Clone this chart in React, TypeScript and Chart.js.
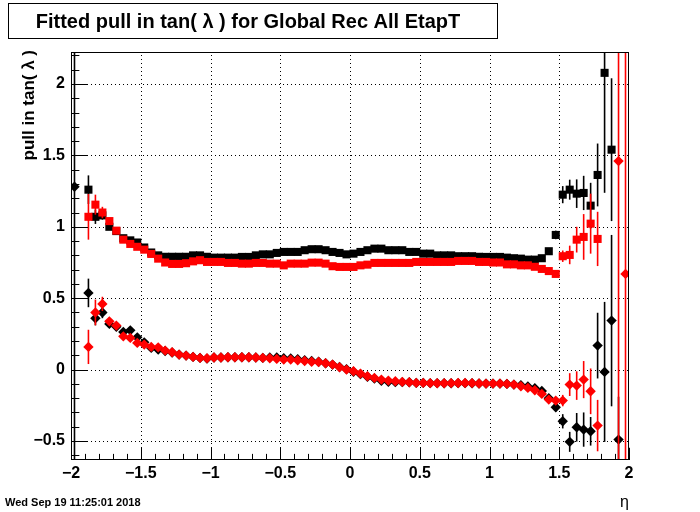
import { useEffect, useRef } from "react";
import { Chart, registerables } from "chart.js";

Chart.register(...registerables);

// ---------- data ----------
const etaCenters = [
  -1.975, -1.925, -1.875, -1.825, -1.775, -1.725, -1.675, -1.625, -1.575, -1.525,
  -1.475, -1.425, -1.375, -1.325, -1.275, -1.225, -1.175, -1.125, -1.075, -1.025,
  -0.975, -0.925, -0.875, -0.825, -0.775, -0.725, -0.675, -0.625, -0.575, -0.525,
  -0.475, -0.425, -0.375, -0.325, -0.275, -0.225, -0.175, -0.125, -0.075, -0.025,
  0.025, 0.075, 0.125, 0.175, 0.225, 0.275, 0.325, 0.375, 0.425, 0.475,
  0.525, 0.575, 0.625, 0.675, 0.725, 0.775, 0.825, 0.875, 0.925, 0.975,
  1.025, 1.075, 1.125, 1.175, 1.225, 1.275, 1.325, 1.375, 1.425, 1.475,
  1.525, 1.575, 1.625, 1.675, 1.725, 1.775, 1.825, 1.875, 1.925, 1.975,
];

// black squares (sigma, set 1)
const blackSquares = [
  null, null, 1.26, 1.07, 1.08, 1.0, 0.97, 0.92, 0.905, 0.89,
  0.855, 0.82, 0.8, 0.79, 0.79, 0.79, 0.79, 0.8, 0.8, 0.79,
  0.784, 0.784, 0.784, 0.784, 0.789, 0.789, 0.8, 0.807, 0.807, 0.817,
  0.824, 0.824, 0.824, 0.836, 0.843, 0.843, 0.836, 0.824, 0.817, 0.807,
  0.812, 0.824, 0.836, 0.847, 0.847, 0.836, 0.836, 0.836, 0.824, 0.824,
  0.812, 0.812, 0.8, 0.8, 0.8, 0.794, 0.794, 0.794, 0.79, 0.789,
  0.789, 0.789, 0.784, 0.78, 0.777, 0.77, 0.77, 0.78, 0.829, 0.943,
  1.225, 1.26, 1.232, 1.237, 1.148, 1.363, 2.078, 1.54, null, null,
];
const blackSquaresErr = [
  0, 0, 0.1, 0.05, 0.03, 0.02, 0.015, 0.015, 0.015, 0.015,
  0.015, 0.015, 0.012, 0.01, 0.01, 0.01, 0.01, 0.01, 0.01, 0.01,
  0.01, 0.01, 0.01, 0.01, 0.01, 0.01, 0.01, 0.01, 0.01, 0.01,
  0.01, 0.01, 0.01, 0.01, 0.01, 0.01, 0.01, 0.01, 0.01, 0.01,
  0.01, 0.01, 0.01, 0.01, 0.01, 0.01, 0.01, 0.01, 0.01, 0.01,
  0.01, 0.01, 0.01, 0.01, 0.01, 0.01, 0.01, 0.01, 0.01, 0.01,
  0.01, 0.01, 0.01, 0.01, 0.01, 0.01, 0.01, 0.015, 0.02, 0.03,
  0.06, 0.07, 0.1, 0.12, 0.16, 0.22, 0.84, 0.5, 0, 0,
];

// red squares (sigma, set 2)
const redSquares = [
  null, null, 1.07, 1.155, 1.1, 1.04, 0.973, 0.91, 0.88, 0.86,
  0.84, 0.81, 0.777, 0.75, 0.74, 0.74, 0.745, 0.758, 0.766, 0.754,
  0.754, 0.754, 0.747, 0.747, 0.742, 0.742, 0.747, 0.747, 0.742, 0.742,
  0.73, 0.742, 0.742, 0.742, 0.749, 0.749, 0.742, 0.724, 0.719, 0.719,
  0.719, 0.73, 0.735, 0.747, 0.747, 0.747, 0.747, 0.747, 0.747, 0.754,
  0.754, 0.754, 0.754, 0.754, 0.754, 0.761, 0.761, 0.761, 0.754, 0.754,
  0.75, 0.75, 0.737, 0.737, 0.73, 0.73, 0.72, 0.705, 0.69, 0.67,
  0.794, 0.803, 0.91, 0.929, 1.022, 0.915, null, null, null, null,
];
const redSquaresErr = [
  0, 0, 0.16, 0.07, 0.04, 0.02, 0.015, 0.015, 0.015, 0.015,
  0.015, 0.015, 0.01, 0.01, 0.01, 0.01, 0.01, 0.01, 0.01, 0.01,
  0.01, 0.01, 0.01, 0.01, 0.01, 0.01, 0.01, 0.01, 0.01, 0.01,
  0.01, 0.01, 0.01, 0.01, 0.01, 0.01, 0.01, 0.01, 0.01, 0.01,
  0.01, 0.01, 0.01, 0.01, 0.01, 0.01, 0.01, 0.01, 0.01, 0.01,
  0.01, 0.01, 0.01, 0.01, 0.01, 0.01, 0.01, 0.01, 0.01, 0.01,
  0.01, 0.01, 0.01, 0.01, 0.01, 0.01, 0.01, 0.015, 0.02, 0.02,
  0.04, 0.065, 0.09, 0.16, 0.21, 0.19, 0, 0, 0, 0,
];

// black diamonds (mean, set 1)
const blackDiamonds = [
  1.28, null, 0.537, 0.36, 0.4, 0.32, 0.3, 0.264, 0.275, 0.226,
  0.191, 0.152, 0.14, 0.13, 0.12, 0.105, 0.098, 0.089, 0.082, 0.077,
  0.085, 0.085, 0.087, 0.087, 0.087, 0.087, 0.085, 0.082, 0.085, 0.085,
  0.08, 0.078, 0.072, 0.065, 0.06, 0.055, 0.045, 0.035, 0.018, 0.003,
  -0.015, -0.032, -0.05, -0.062, -0.078, -0.085, -0.088, -0.088, -0.089, -0.093,
  -0.093, -0.095, -0.095, -0.096, -0.096, -0.095, -0.095, -0.096, -0.097, -0.098,
  -0.098, -0.098, -0.1, -0.105, -0.11, -0.118, -0.13, -0.15, -0.2, -0.264,
  -0.362, -0.506, -0.404, -0.42, -0.432, 0.168, -0.016, 0.343, -0.49, null,
];
const blackDiamondsErr = [
  3, 0, 0.1, 0.05, 0.04, 0.02, 0.015, 0.015, 0.015, 0.015,
  0.015, 0.015, 0.01, 0.01, 0.01, 0.01, 0.01, 0.01, 0.01, 0.01,
  0.01, 0.01, 0.01, 0.01, 0.01, 0.01, 0.01, 0.01, 0.01, 0.01,
  0.01, 0.01, 0.01, 0.01, 0.01, 0.01, 0.01, 0.01, 0.01, 0.01,
  0.01, 0.01, 0.01, 0.01, 0.01, 0.01, 0.01, 0.01, 0.01, 0.01,
  0.01, 0.01, 0.01, 0.01, 0.01, 0.01, 0.01, 0.01, 0.01, 0.01,
  0.01, 0.01, 0.01, 0.01, 0.01, 0.01, 0.01, 0.015, 0.02, 0.03,
  0.05, 0.07, 0.1, 0.12, 0.1, 0.23, 0.49, 0.6, 0.3, 0,
];

// red diamonds (mean, set 2)
const redDiamonds = [
  null, null, 0.159, 0.4, 0.46, 0.338, 0.308, 0.233, 0.222, 0.187,
  0.175, 0.159, 0.156, 0.133, 0.121, 0.105, 0.098, 0.089, 0.082, 0.08,
  0.085, 0.085, 0.087, 0.087, 0.087, 0.087, 0.085, 0.082, 0.08, 0.075,
  0.07, 0.07, 0.066, 0.06, 0.055, 0.053, 0.045, 0.035, 0.016, 0.0,
  -0.012, -0.028, -0.047, -0.058, -0.07, -0.077, -0.082, -0.086, -0.089, -0.093,
  -0.093, -0.095, -0.096, -0.096, -0.095, -0.094, -0.094, -0.095, -0.097, -0.098,
  -0.098, -0.098, -0.1, -0.105, -0.117, -0.128, -0.145, -0.17, -0.21, -0.217,
  -0.217, -0.105, -0.112, -0.07, -0.152, -0.392, null, null, 1.46, 0.67,
];
const redDiamondsErr = [
  0, 0, 0.12, 0.09, 0.05, 0.02, 0.015, 0.015, 0.015, 0.015,
  0.015, 0.015, 0.01, 0.01, 0.01, 0.01, 0.01, 0.01, 0.01, 0.01,
  0.01, 0.01, 0.01, 0.01, 0.01, 0.01, 0.01, 0.01, 0.01, 0.01,
  0.01, 0.01, 0.01, 0.01, 0.01, 0.01, 0.01, 0.01, 0.01, 0.01,
  0.01, 0.01, 0.01, 0.01, 0.01, 0.01, 0.01, 0.01, 0.01, 0.01,
  0.01, 0.01, 0.01, 0.01, 0.01, 0.01, 0.01, 0.01, 0.01, 0.01,
  0.01, 0.01, 0.01, 0.01, 0.01, 0.01, 0.01, 0.015, 0.02, 0.02,
  0.04, 0.08, 0.1, 0.13, 0.16, 0.18, 0, 0, 3, 3,
];

const xTickValues = [-2, -1.5, -1, -0.5, 0, 0.5, 1, 1.5, 2];
const yTickValues = [-0.5, 0, 0.5, 1, 1.5, 2];
const X_MIN = -2;
const X_MAX = 2;
const Y_MIN = -0.633;
const Y_MAX = 2.224;

const titleText = "Fitted pull in tan( \u03bb ) for Global Rec All EtapT";
const yTitleText = "pull in tan( \u03bb )";
const xTitleText = "\u03b7";
const dateText = "Wed Sep 19 11:25:01 2018";

// ---------- styling ----------
const FONT = "'Liberation Sans', Arial, Helvetica, sans-serif";
const BLACK = "#000000";
const RED = "#ff0000";

function fmt(v: number): string {
  const s = String(Math.round(Math.abs(v) * 100) / 100);
  return v < 0 ? "\u2212" + s : s;
}

function toPoints(vals: (number | null)[]) {
  return etaCenters.map((x, i) => ({ x, y: vals[i] }));
}

const errorBarPlugin = {
  id: "rootErrorBars",
  beforeDatasetDraw(chart: any, args: any) {
    const ds = chart.data.datasets[args.index];
    const errs: number[] | undefined = ds.errors;
    if (!errs) return;
    const { ctx, chartArea: a, scales } = chart;
    const xs = scales.x;
    const ys = scales.y;
    ctx.save();
    ctx.beginPath();
    ctx.rect(a.left, a.top, a.right - a.left, a.bottom - a.top);
    ctx.clip();
    ctx.strokeStyle = ds.pointBackgroundColor;
    ctx.lineWidth = 1.6;
    ds.data.forEach((p: any, i: number) => {
      if (p.y === null || p.y === undefined) return;
      const e = errs[i];
      if (!e) return;
      const px = xs.getPixelForValue(p.x);
      const y1 = ys.getPixelForValue(p.y - e);
      const y2 = ys.getPixelForValue(p.y + e);
      ctx.beginPath();
      ctx.moveTo(px, y1);
      ctx.lineTo(px, y2);
      ctx.stroke();
    });
    ctx.restore();
  },
};

const gridPlugin = {
  id: "rootGrid",
  beforeDatasetsDraw(chart: any) {
    const { ctx, chartArea: a, scales } = chart;
    ctx.save();
    ctx.strokeStyle = BLACK;
    ctx.lineWidth = 1;
    ctx.setLineDash([1, 3]);
    xTickValues.forEach((v) => {
      const px = Math.round(scales.x.getPixelForValue(v)) + 0.5;
      if (px <= a.left + 1 || px >= a.right - 1) return;
      ctx.beginPath();
      ctx.moveTo(px, a.bottom);
      ctx.lineTo(px, a.top);
      ctx.stroke();
    });
    yTickValues.forEach((v) => {
      const py = Math.round(scales.y.getPixelForValue(v)) + 0.5;
      ctx.beginPath();
      ctx.moveTo(a.left, py);
      ctx.lineTo(a.right, py);
      ctx.stroke();
    });
    ctx.restore();
  },
};

const framePlugin = {
  id: "rootFrame",
  afterDraw(chart: any) {
    const { ctx, chartArea: a, scales } = chart;
    const xs = scales.x;
    const ys = scales.y;
    ctx.save();
    ctx.strokeStyle = BLACK;
    ctx.lineWidth = 1;
    ctx.setLineDash([]);
    ctx.strokeRect(a.left + 0.5, a.top + 0.5, a.right - a.left - 1, a.bottom - a.top - 1);
    // ticks drawn inside the frame
    const h = a.bottom - a.top;
    const w = a.right - a.left;
    const xMajor = 0.03 * h;
    const yMajor = 0.03 * w;
    ctx.beginPath();
    for (let k = 0; k <= 40; k++) {
      const v = X_MIN + k * 0.1;
      const px = Math.round(xs.getPixelForValue(v)) + 0.5;
      const len = k % 5 === 0 ? xMajor : xMajor / 2;
      ctx.moveTo(px, a.bottom);
      ctx.lineTo(px, a.bottom - len);
    }
    for (let k = -6; k <= 22; k++) {
      const v = k * 0.1;
      if (v < Y_MIN || v > Y_MAX) continue;
      const py = Math.round(ys.getPixelForValue(v)) + 0.5;
      const len = k % 5 === 0 ? yMajor : yMajor / 2;
      ctx.moveTo(a.left, py);
      ctx.lineTo(a.left + len, py);
    }
    ctx.stroke();

    // title box
    ctx.fillStyle = "#ffffff";
    ctx.fillRect(8, 3, 489, 35);
    ctx.strokeRect(8.5, 3.5, 489, 35);
    ctx.fillStyle = BLACK;
    ctx.font = `bold 20px ${FONT}`;
    ctx.textAlign = "center";
    ctx.textBaseline = "alphabetic";
    ctx.fillText(titleText, 248, 28);

    // y title
    ctx.save();
    ctx.translate(34, 50);
    ctx.rotate(-Math.PI / 2);
    ctx.font = `bold 17px ${FONT}`;
    ctx.textAlign = "right";
    ctx.fillText(yTitleText, 0, 0);
    ctx.restore();

    // x title
    ctx.font = `16px ${FONT}`;
    ctx.textAlign = "right";
    ctx.fillText(xTitleText, 629, 507);

    // date
    ctx.font = `bold 11px ${FONT}`;
    ctx.textAlign = "left";
    ctx.fillText(dateText, 5, 506);
    ctx.restore();
  },
};

export default function App() {
  const canvasRef = useRef<HTMLCanvasElement | null>(null);

  useEffect(() => {
    document.body.style.margin = "0";
    const canvas = canvasRef.current;
    if (!canvas) return;
    const mk = (label: string, vals: (number | null)[], errs: number[], color: string, style: string, radius: number) => ({
      label,
      data: toPoints(vals),
      errors: errs,
      showLine: false,
      pointStyle: style,
      pointRadius: radius,
      pointHoverRadius: radius,
      pointBackgroundColor: color,
      pointBorderColor: color,
      pointBorderWidth: 0,
      backgroundColor: color,
      borderColor: color,
    });
    const chart = new Chart(canvas, {
      type: "scatter",
      data: {
        datasets: [
          mk("red mean", redDiamonds, redDiamondsErr, RED, "rectRot", 5.2),
          mk("red sigma", redSquares, redSquaresErr, RED, "rect", 5.7),
          mk("black mean", blackDiamonds, blackDiamondsErr, BLACK, "rectRot", 5.2),
          mk("black sigma", blackSquares, blackSquaresErr, BLACK, "rect", 5.7),
        ] as any,
      },
      options: {
        animation: false,
        responsive: false,
        devicePixelRatio: 1,
        events: [],
        layout: { padding: { left: 0, top: 52, right: 71, bottom: 0 } },
        plugins: {
          legend: { display: false },
          tooltip: { enabled: false },
          title: { display: false },
        },
        scales: {
          x: {
            type: "linear",
            position: "bottom",
            min: X_MIN,
            max: X_MAX,
            grid: { display: false, drawTicks: false },
            border: { display: false },
            afterBuildTicks: (scale: any) => {
              scale.ticks = xTickValues.map((v) => ({ value: v }));
            },
            afterFit: (scale: any) => {
              scale.height = 52;
            },
            ticks: {
              autoSkip: false,
              maxRotation: 0,
              padding: 4,
              color: BLACK,
              font: { family: FONT, size: 16, weight: "bold" },
              callback: (v: any) => fmt(Number(v)),
            },
          },
          y: {
            type: "linear",
            position: "left",
            min: Y_MIN,
            max: Y_MAX,
            grid: { display: false, drawTicks: false },
            border: { display: false },
            afterBuildTicks: (scale: any) => {
              scale.ticks = yTickValues.map((v) => ({ value: v }));
            },
            afterFit: (scale: any) => {
              scale.width = 71;
            },
            ticks: {
              autoSkip: false,
              padding: 6,
              color: BLACK,
              font: { family: FONT, size: 16, weight: "bold" },
              callback: (v: any) => fmt(Number(v)),
            },
          },
        },
      } as any,
      plugins: [errorBarPlugin, gridPlugin, framePlugin],
    });
    return () => chart.destroy();
  }, []);

  return (
    <div style={{ position: "absolute", left: 0, top: 0, width: 700, height: 512, background: "#fff" }}>
      <canvas ref={canvasRef} width={700} height={512} style={{ width: 700, height: 512, display: "block" }} />
    </div>
  );
}
